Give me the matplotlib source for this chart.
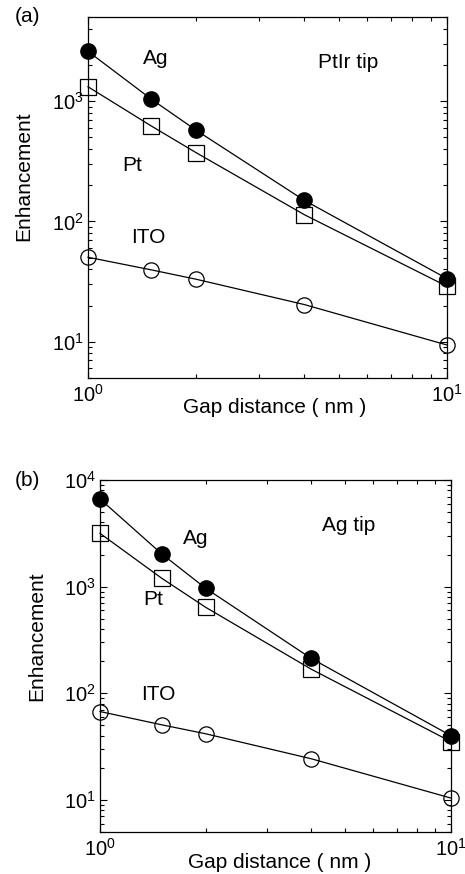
import matplotlib
matplotlib.use('Agg')
import matplotlib.pyplot as plt
from matplotlib.ticker import NullFormatter
import numpy as np

plt.rcParams['font.family'] = ['Liberation Sans', 'DejaVu Sans']
plt.rcParams['mathtext.default'] = 'regular'
plt.rcParams['mathtext.fontset'] = 'custom'
plt.rcParams['mathtext.rm'] = 'Liberation Sans'

# gap distance (nm)
gap = [1, 1.5, 2, 4, 10]

# (a) PtIr tip
ag_a = [2590, 1040, 573, 150, 33.5]
pt_a = [1316, 622, 373, 114, 28.9]
ito_a = [50.4, 39.6, 33.1, 20.4, 9.4]

# (b) Ag tip
ag_b = [6640, 2025, 965, 212, 40]
pt_b = [3160, 1197, 640, 168, 35.2]
ito_b = [67.4, 50.6, 41.7, 24.3, 10.4]

W, H = 465, 874
fig = plt.figure(figsize=(W / 100, H / 100), dpi=100)
fs = 15

def px_axes(l, t, r, b):
    return fig.add_axes([l / W, 1 - b / H, (r - l) / W, (b - t) / H])

def setup(ax, ylim):
    ax.set_xscale('log')
    ax.set_yscale('log')
    ax.set_xlim(1, 10)
    ax.set_ylim(*ylim)
    ax.xaxis.set_minor_formatter(NullFormatter())
    ax.yaxis.set_minor_formatter(NullFormatter())
    ax.tick_params(which='both', direction='in', top=True, right=True,
                   labelsize=fs - 0.5, width=0.8)
    ax.tick_params(which='major', length=5, pad=3)
    ax.tick_params(which='minor', length=3)
    ax.tick_params(axis='x', pad=4)
    for s in ax.spines.values():
        s.set_linewidth(0.9)

def draw(ax, ag, pt, ito):
    kw = dict(color='black', lw=0.9, markersize=11, clip_on=False, zorder=3)
    ax.plot(gap, ag, marker='o', mfc='black', mec='black', **kw)
    ax.plot(gap, pt, marker='s', mfc='none', mec='black', mew=0.9, **kw)
    ax.plot(gap, ito, marker='o', mfc='none', mec='black', mew=0.9, **kw)

# panel (a)
ax1 = px_axes(88, 17, 447, 378)
setup(ax1, (5, 5000))
draw(ax1, ag_a, pt_a, ito_a)
ax1.text(1.54, 2240, 'Ag', fontsize=fs, ha='center', va='center')
ax1.text(5.3, 2080, 'PtIr tip', fontsize=fs, ha='center', va='center')
ax1.text(1.33, 289, 'Pt', fontsize=fs, ha='center', va='center')
ax1.text(1.47, 73.6, 'ITO', fontsize=fs, ha='center', va='center')
ax1.set_ylabel('Enhancement', fontsize=fs)
ax1.yaxis.set_label_coords((33 - 88) / 359, (378 - 176) / 361)
ax1.set_xlabel('Gap distance ( nm )', fontsize=fs)
ax1.xaxis.set_label_coords((275 - 88) / 359, (378 - 398) / 361)
fig.text(27 / W, 1 - 16 / H, '(a)', fontsize=fs, ha='center', va='center')

# panel (b)
ax2 = px_axes(100, 480, 451, 832)
setup(ax2, (5, 10000))
draw(ax2, ag_b, pt_b, ito_b)
ax2.text(1.87, 2820, 'Ag', fontsize=fs, ha='center', va='center')
ax2.text(5.1, 3730, 'Ag tip', fontsize=fs, ha='center', va='center')
ax2.text(1.42, 755, 'Pt', fontsize=fs, ha='center', va='center')
ax2.text(1.47, 97, 'ITO', fontsize=fs, ha='center', va='center')
ax2.set_ylabel('Enhancement', fontsize=fs)
ax2.yaxis.set_label_coords((46 - 100) / 351, (832 - 636) / 352)
ax2.set_xlabel('Gap distance ( nm )', fontsize=fs)
ax2.xaxis.set_label_coords((280 - 100) / 351, (832 - 853) / 352)
fig.text(27 / W, 1 - 480 / H, '(b)', fontsize=fs, ha='center', va='center')

fig.savefig('out.png', dpi=100)
